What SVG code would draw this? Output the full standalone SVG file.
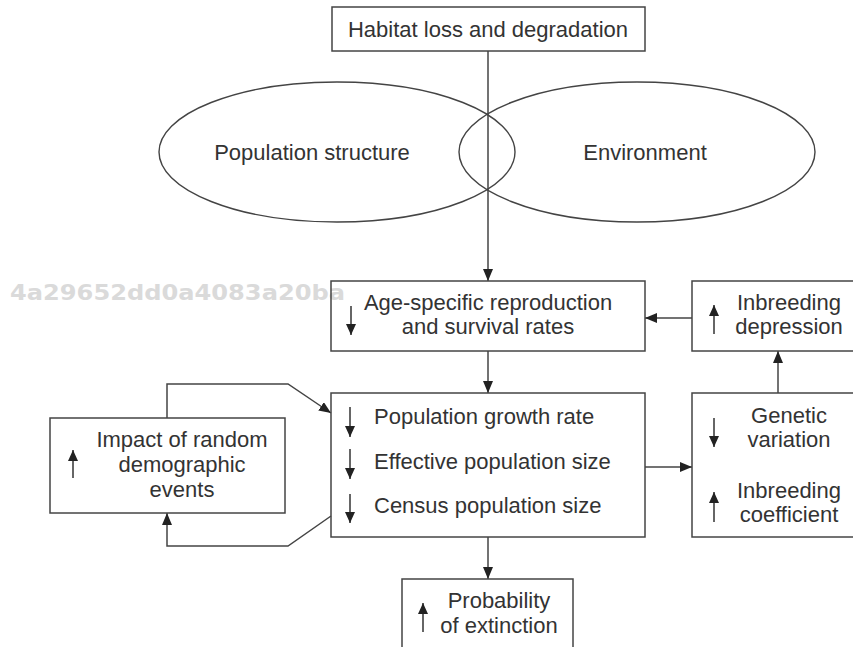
<svg xmlns="http://www.w3.org/2000/svg" width="853" height="647" viewBox="0 0 853 647">
<defs>
<marker id="ah" markerUnits="userSpaceOnUse" markerWidth="12" markerHeight="10" refX="12" refY="5" orient="auto"><path d="M0,0 L12,5 L0,10 z" fill="#222"/></marker>
<marker id="sa" markerUnits="userSpaceOnUse" markerWidth="11" markerHeight="10" refX="11" refY="5" orient="auto"><path d="M0,0 L11,5 L0,10 z" fill="#222"/></marker>
</defs>
<style>
.box{fill:none;stroke:#444;stroke-width:1.5}
.ell{fill:none;stroke:#444;stroke-width:1.4}
.t{font-family:"Liberation Sans",Arial,sans-serif;font-size:22px;fill:#333}
.m{text-anchor:middle}
.c{fill:none;stroke:#444;stroke-width:1.5;marker-end:url(#ah)}
.ind{fill:none;stroke:#333;stroke-width:1.5;marker-end:url(#sa)}
.wm{font-family:"DejaVu Sans",sans-serif;font-weight:bold;font-size:21px;fill:#dadada}
</style>
<rect width="853" height="647" fill="#fff"/>
<text class="wm" x="10" y="300" textLength="335" lengthAdjust="spacingAndGlyphs">4a29652dd0a4083a20ba</text>
<g id="connectors">
<line class="c" x1="488" y1="51" x2="488" y2="281"/>
<line class="c" x1="488" y1="351" x2="488" y2="393"/>
<line class="c" x1="692" y1="318" x2="645" y2="318"/>
<line class="c" x1="645" y1="467" x2="692" y2="467"/>
<line class="c" x1="778" y1="393" x2="778" y2="351"/>
<line class="c" x1="488" y1="537" x2="488" y2="579"/>
<polyline class="c" points="167,418 167,384 288,384 331,413"/>
<polyline class="c" points="331,516 288,546 167,546 167,513"/>
</g>
<g id="habitat">
<rect class="box" x="332" y="7" width="313" height="44"/>
<text class="t m" x="488" y="37">Habitat loss and degradation</text>
</g>
<g id="population-structure">
<ellipse class="ell" cx="337" cy="152" rx="178" ry="70"/>
<text class="t m" x="312" y="160">Population structure</text>
</g>
<g id="environment">
<ellipse class="ell" cx="637" cy="152" rx="178" ry="70"/>
<text class="t m" x="645" y="160">Environment</text>
</g>
<g id="age-specific">
<rect class="box" x="331" y="281" width="314" height="70"/>
<line class="ind" x1="351" y1="306" x2="351" y2="335"/>
<text class="t m" x="488" y="310">Age-specific reproduction</text>
<text class="t m" x="488" y="334">and survival rates</text>
</g>
<g id="inbreeding-depression">
<rect class="box" x="692" y="281" width="170" height="70"/>
<line class="ind" x1="714" y1="334" x2="714" y2="305"/>
<text class="t m" x="789" y="310">Inbreeding</text>
<text class="t m" x="789" y="334">depression</text>
</g>
<g id="population">
<rect class="box" x="331" y="393" width="314" height="144"/>
<line class="ind" x1="350" y1="407" x2="350" y2="437"/>
<line class="ind" x1="350" y1="449" x2="350" y2="479"/>
<line class="ind" x1="350" y1="494" x2="350" y2="523"/>
<text class="t" x="374" y="424">Population growth rate</text>
<text class="t" x="374" y="469">Effective population size</text>
<text class="t" x="374" y="513">Census population size</text>
</g>
<g id="genetic">
<rect class="box" x="692" y="393" width="170" height="144"/>
<line class="ind" x1="714" y1="418" x2="714" y2="447"/>
<line class="ind" x1="714" y1="522" x2="714" y2="492"/>
<text class="t m" x="789" y="423">Genetic</text>
<text class="t m" x="789" y="447">variation</text>
<text class="t m" x="789" y="498">Inbreeding</text>
<text class="t m" x="789" y="522">coefficient</text>
</g>
<g id="impact">
<rect class="box" x="50" y="418" width="235" height="95"/>
<line class="ind" x1="73" y1="478" x2="73" y2="450"/>
<text class="t m" x="182" y="447">Impact of random</text>
<text class="t m" x="182" y="472">demographic</text>
<text class="t m" x="182" y="497">events</text>
</g>
<g id="probability">
<rect class="box" x="402" y="579" width="171" height="80"/>
<line class="ind" x1="423" y1="632" x2="423" y2="603"/>
<text class="t m" x="499" y="608">Probability</text>
<text class="t m" x="499" y="633">of extinction</text>
</g>
</svg>
